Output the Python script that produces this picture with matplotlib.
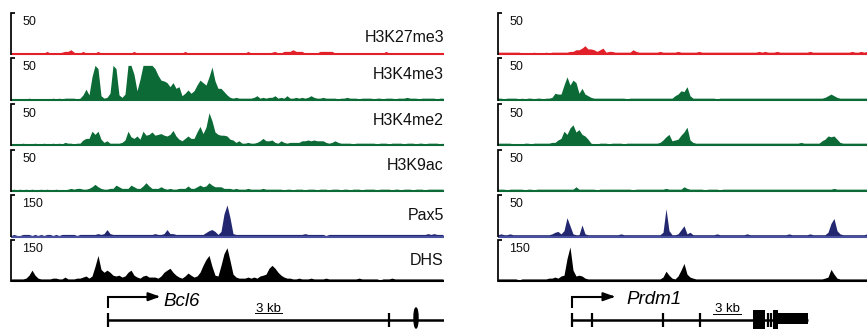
import matplotlib
matplotlib.use('Agg')
import matplotlib.pyplot as plt
import matplotlib.transforms as mtransforms
import numpy as np
from matplotlib.patches import Ellipse, Rectangle

plt.rcParams['font.family'] = ['Liberation Sans', 'DejaVu Sans']

# ---------------- data ----------------
BIN_KB = 1.0 / 3.0          # signal bin size (kb)
LEFT_SPAN_KB = 48.11
RIGHT_SPAN_KB = 41.0

track_names = ['H3K27me3', 'H3K4me3', 'H3K4me2', 'H3K9ac', 'Pax5', 'DHS']
left_max = [50, 50, 50, 50, 150, 150]
right_max = [50, 50, 50, 50, 50, 150]

# ---- Bcl6 locus signals (one value per 1/3 kb) ----
bcl6_h3k27me3 = [0,0,0,0,0,0,0,0,0,0, 0,0,2,0,0,0,0,1,2,2, 4,1,0,0,2,0,0,0,0,2,
                 0,0,0,0,0,0,0,0,0,0, 0,2,0,0,0,0,0,0,0,0, 0,0,0,0,0,0,0,0,2,0,
                 0,0,0,0,0,0,0,0,0,0, 0,0,0,0,0,0,0,0,0,2, 0,0,0,0,0,0,0,1,2,0,
                 0,2,2,2,4,2,2,2,0,0, 0,0,0,2,2,2,2,2,0,0, 0,0,0,0,0,0,0,0,0,0,
                 0,0,0,0,0,2,0,0,0,0, 0,0,0,0,0,0,0,0,0,0, 0,0,0,0,0]
bcl6_h3k4me3 = [0,0,0,0,0,0,1,0,0,0, 0,0,0,0,1,0,1,0,1,1, 1,1,0,1,5,12,5,27,41,37,
                4,1,2,7,41,37,5,2,6,41, 41,30,10,24,41,41,41,41,37,29, 23,22,20,15,20,13,15,4,7,11,
                7,10,17,23,20,17,27,39,22,13, 13,9,5,2,1,2,1,1,1,1, 1,2,4,1,2,1,2,2,4,1,
                2,1,4,1,1,2,1,2,1,2, 4,2,1,1,2,1,1,1,1,0, 1,1,2,1,1,1,0,1,1,1,
                1,0,1,1,0,1,1,1,0,1, 1,1,2,1,1,1,0,1,1,1, 1,1,0,1,1]
bcl6_h3k4me2 = [0,0,0,0,1,0,0,0,1,0, 0,1,0,0,1,0,1,0,2,1, 1,0,1,1,5,7,7,16,12,16,
                6,2,4,1,1,1,1,2,5,16, 9,7,10,6,16,11,12,15,11,12, 13,11,10,12,17,10,6,4,7,10,
                7,7,15,22,13,21,39,29,15,12, 11,11,10,6,5,2,4,1,1,2, 1,1,2,4,7,4,4,5,2,1,
                4,2,1,2,2,2,2,4,4,5, 4,5,4,4,4,2,1,2,4,2, 1,1,1,1,0,1,1,1,1,1,
                1,1,0,1,1,1,0,1,1,1, 1,0,1,1,1,0,1,1,0,1, 1,1,1,0,1]
bcl6_h3k9ac = [0,1,0,1,0,1,0,1,0,0, 1,0,1,0,0,1,0,0,0,1, 2,1,2,2,1,1,2,4,7,4,
               2,1,1,2,2,6,4,2,2,2, 6,4,2,2,5,9,5,2,2,2, 4,2,1,2,1,1,2,2,2,5,
               2,2,4,6,4,5,9,6,4,4, 4,2,2,2,1,2,1,1,1,2, 1,1,1,1,2,1,1,1,1,1,
               1,0,1,1,0,1,1,1,0,1, 1,1,0,1,1,1,0,1,1,1, 0,1,1,0,1,1,1,0,1,1,
               1,1,0,1,1,1,1,0,1,1, 0,1,1,1,0,1,1,1,0,1, 1,1,1,1,1]
bcl6_pax5 = [0,4,0,0,4,4,4,0,4,0, 4,0,4,4,0,4,0,4,4,4, 4,4,0,4,4,4,4,4,4,7,
             4,7,22,7,4,4,4,4,4,4, 4,4,4,4,4,4,4,4,7,4, 4,7,22,7,7,4,4,4,4,4,
             4,4,4,4,4,11,18,22,15,4, 15,80,113,66,7,4,4,4,4,4, 4,4,4,4,4,4,4,4,4,4,
             4,4,4,4,4,4,4,4,7,4, 4,4,4,4,4,0,4,4,4,4, 4,4,4,4,4,4,4,4,4,4,
             4,4,4,4,4,4,4,4,4,4, 4,4,4,4,4,4,4,4,4,7, 4,7,4,4,4]
bcl6_dhs = [4,4,4,4,4,7,18,37,18,7, 4,4,4,4,7,7,4,4,11,4, 4,4,7,7,11,15,7,15,51,92,
            40,29,37,29,18,15,18,11,15,29, 37,18,11,7,15,18,11,11,11,7, 15,29,37,44,29,18,11,7,15,26,
            18,11,15,29,55,77,92,51,18,15, 55,99,121,73,22,11,7,7,7,11, 7,11,7,15,18,22,44,55,44,29,
            18,11,7,7,4,4,7,4,4,4, 7,4,4,4,4,7,4,4,4,4, 4,4,4,4,4,4,7,4,4,4,
            4,4,4,0,4,4,4,7,4,4, 4,4,4,4,4,4,4,4,4,4, 4,4,4,4,4]

# ---- Prdm1 locus signals (one value per 1/3 kb) ----
prdm1_h3k27me3 = [1,1,1,1,1,1,1,1,0,0, 0,0,1,0,0,0,1,0,1,1, 1,1,1,1,2,2,4,4,6,9,
                  5,5,4,2,4,6,1,2,2,1, 1,1,1,1,1,4,2,1,1,1, 1,1,1,1,2,1,1,1,1,1,
                  2,1,1,1,1,1,1,2,1,1, 1,1,1,1,1,1,1,1,1,1, 1,1,1,1,1,1,1,2,1,2,
                  1,1,1,2,1,1,1,1,1,1, 1,1,1,1,2,1,1,1,1,1, 1,1,1,1,1,1,1,1,2,1,
                  1,2,1,2]
prdm1_h3k4me3 = [1,1,0,1,1,1,1,0,1,0, 1,1,0,1,1,0,1,1,2,7, 6,6,17,27,17,23,20,7,13,6,
                 4,2,1,1,1,1,1,1,1,1, 1,1,1,0,1,1,1,1,1,1, 1,1,1,1,1,1,1,1,1,4,
                 6,10,9,15,4,1,1,1,1,1, 1,1,1,0,1,1,1,1,1,1, 1,1,1,1,1,1,1,1,1,1,
                 1,1,1,1,1,1,1,1,1,1, 1,1,1,1,1,1,1,1,1,2, 4,6,4,2,1,1,1,1,1,1,
                 1,1,1,1]
prdm1_h3k4me2 = [1,1,1,1,1,0,0,0,0,1, 1,0,1,1,1,1,1,1,2,2, 5,7,16,12,20,24,15,18,12,10,
                 6,1,0,0,1,1,1,0,1,1, 1,1,0,1,1,1,1,1,1,1, 1,1,1,1,2,5,9,12,4,5,
                 6,11,15,21,5,2,1,1,1,1, 1,1,1,1,1,1,1,1,1,1, 1,1,1,1,1,1,1,1,1,1,
                 1,1,1,1,1,1,1,1,1,1, 1,2,1,1,1,1,1,1,4,6, 10,9,10,6,2,1,1,1,1,1,
                 1,1,1,1]
prdm1_h3k9ac = [1,1,1,0,1,1,1,1,1,0, 1,1,0,1,1,1,1,1,1,1, 1,1,1,1,1,1,4,1,1,1,
                1,1,1,0,1,1,1,1,1,1, 1,1,1,1,1,0,1,1,1,1, 1,1,1,1,1,1,2,1,1,1,
                1,1,4,2,1,1,1,1,1,0, 1,1,1,1,0,1,1,1,1,1, 1,1,1,1,1,1,1,1,1,1,
                1,1,1,1,1,1,1,1,1,1, 1,1,1,1,1,1,1,1,1,1, 1,1,2,1,1,1,1,1,1,1,
                1,1,1,1]
prdm1_pax5 = [1,2,1,1,2,1,1,1,1,1, 1,1,1,1,1,1,1,1,2,4, 5,2,6,22,12,2,1,1,13,2,
              1,1,1,1,1,1,1,1,1,1, 1,2,1,1,1,1,1,1,1,1, 1,1,1,1,1,4,33,6,1,1,
              2,7,12,2,4,1,1,1,1,1, 1,1,1,2,1,1,1,1,1,1, 1,1,1,2,1,1,1,1,1,1,
              1,1,1,1,1,1,1,2,1,1, 1,1,1,1,2,1,1,1,1,1, 4,15,21,6,2,1,1,1,1,1,
              1,1,1,2]
prdm1_dhs = [4,4,4,4,4,4,4,0,4,4, 4,4,4,4,4,4,4,7,7,11, 7,15,18,80,124,37,15,18,15,7,
             4,4,4,4,4,4,4,4,4,4, 4,4,4,4,4,4,4,4,4,4, 4,4,4,4,4,11,33,18,7,4,
             15,37,62,22,11,7,4,4,4,4, 4,4,4,4,4,4,4,4,4,4, 4,4,4,4,4,4,4,4,4,4,
             4,4,4,4,4,4,4,4,4,4, 4,4,4,4,4,4,4,4,4,7, 11,40,22,7,4,4,4,4,4,4,
             4,4,4,4]

# ---- gene models (kb from panel start) ----
bcl6_name = 'Bcl6'
bcl6_tss = 10.8
bcl6_end = 50.0
bcl6_exon_ticks = [10.8, 42.0]
bcl6_big_exons = [45.0]
bcl6_scale = (27.1, 30.1)

prdm1_name = 'Prdm1'
prdm1_tss = 8.19
prdm1_end = 34.48
prdm1_exon_ticks = [8.19, 10.41, 18.33, 22.44, 29.97, 30.3]
prdm1_tall_blocks = [(28.37, 29.67), (30.59, 31.1)]
prdm1_short_blocks = [(31.1, 34.48)]
prdm1_scale = (23.9, 27.0)

# ---------------- styling / layout ----------------
W, H = 867, 329
fig = plt.figure(figsize=(W / 100, H / 100), dpi=100)

fill_colors = ['#E2202A', '#0B6A36', '#0B6A36', '#0B6A36', '#222770', '#000000']
base_colors = ['#E2202A', '#0B6A36', '#0B6A36', '#0B6A36', '#4A50A0', '#000000']
track_top = [12.5, 58, 104, 149.5, 195, 240]
track_base = [53, 99, 144, 190, 235.5, 280]
label_base = [41.7, 79, 125, 170, 220, 265]

panels = [
    dict(x0=11, x1=444, span=LEFT_SPAN_KB, maxes=left_max,
         tracks=[bcl6_h3k27me3, bcl6_h3k4me3, bcl6_h3k4me2, bcl6_h3k9ac, bcl6_pax5, bcl6_dhs],
         labels=True),
    dict(x0=498, x1=867, span=RIGHT_SPAN_KB, maxes=right_max,
         tracks=[prdm1_h3k27me3, prdm1_h3k4me3, prdm1_h3k4me2, prdm1_h3k9ac, prdm1_pax5, prdm1_dhs],
         labels=False),
]


def add_ax(x0, ytop, x1, ybot):
    return fig.add_axes([x0 / W, 1 - ybot / H, (x1 - x0) / W, (ybot - ytop) / H])


for p in panels:
    for k in range(6):
        ax = add_ax(p['x0'], track_top[k], p['x1'], track_base[k])
        vals = np.asarray(p['tracks'][k], dtype=float)
        x = np.arange(len(vals)) * BIN_KB
        ax.fill_between(x, 0, vals, color=fill_colors[k], lw=0)
        ax.set_xlim(0, p['span'])
        ax.set_ylim(0, p['maxes'][k])
        ax.axis('off')
        # baseline bar sitting just under the zero line
        base_tr = mtransforms.offset_copy(ax.transAxes, fig=fig, y=-1.0, units='dots')
        ax.plot([0, 1], [0, 0], transform=base_tr, color=base_colors[k],
                lw=1.5, clip_on=False, solid_capstyle='butt')
        axw = p['x1'] - p['x0']
        axh = track_base[k] - track_top[k]
        ax.plot([3.5 / axw, 0, 0], [1, 1, -1.5 / axh], transform=ax.transAxes, color='black',
                lw=1.25, clip_on=False, solid_joinstyle='miter', solid_capstyle='butt')
        ax.text(11.5 / axw, 1 - 12.5 / axh, str(p['maxes'][k]), transform=ax.transAxes,
                fontsize=9, ha='left', va='baseline', color='#111111')
        if p['labels']:
            fig.text(p['x1'] / W, 1 - label_base[k] / H, track_names[k], ha='right',
                     va='baseline', fontsize=11.5, color='#111111')

# ---------------- gene models ----------------
GENE_Y = 319.5


def gene_axes(p):
    ax = add_ax(p['x0'], 283, p['x1'], 329)
    ax.set_xlim(0, p['span'])
    ax.set_ylim(329, 283)
    ax.axis('off')
    return ax


# Bcl6
gax = gene_axes(panels[0])
gax.plot([bcl6_tss, bcl6_end], [GENE_Y, GENE_Y], color='black', lw=1.8, solid_capstyle='butt')
for t in bcl6_exon_ticks:
    gax.plot([t, t], [312.5, 327], color='black', lw=1.6, solid_capstyle='butt')
for e in bcl6_big_exons:
    gax.add_patch(Ellipse((e, 318), 0.45, 20, color='black'))
gax.plot([bcl6_tss, bcl6_tss, bcl6_tss + 5.2], [307.5, 296.7, 296.7], color='black', lw=1.5,
         solid_joinstyle='miter', solid_capstyle='butt')
gax.annotate('', xy=(bcl6_tss + 6.1, 296.7), xytext=(bcl6_tss + 4.8, 296.7),
             arrowprops=dict(arrowstyle='-|>,head_length=0.7,head_width=0.25', color='black', lw=1.5))
gax.text(bcl6_tss + 6.15, 305.5, bcl6_name, fontsize=13.5, style='italic', ha='left', va='baseline')
gax.plot(list(bcl6_scale), [313, 313], color='black', lw=0.7)
gax.text(sum(bcl6_scale) / 2, 311.5, '3 kb', fontsize=9.5, ha='center', va='baseline')

# Prdm1
gax = gene_axes(panels[1])
gax.plot([prdm1_tss, prdm1_end], [GENE_Y, GENE_Y], color='black', lw=1.8, solid_capstyle='butt')
for t in prdm1_exon_ticks:
    gax.plot([t, t], [312.5, 327], color='black', lw=1.6, solid_capstyle='butt')
for a, b in prdm1_tall_blocks:
    gax.add_patch(Rectangle((a, 309.5), b - a, 19, color='black', lw=0))
for a, b in prdm1_short_blocks:
    gax.add_patch(Rectangle((a, 312.5), b - a, 11.5, color='black', lw=0))
gax.plot([prdm1_tss, prdm1_tss, prdm1_tss + 4.3], [307.5, 296.7, 296.7], color='black', lw=1.5,
         solid_joinstyle='miter', solid_capstyle='butt')
gax.annotate('', xy=(prdm1_tss + 5.15, 296.7), xytext=(prdm1_tss + 3.9, 296.7),
             arrowprops=dict(arrowstyle='-|>,head_length=0.7,head_width=0.25', color='black', lw=1.5))
gax.text(prdm1_tss + 6.1, 304.5, prdm1_name, fontsize=13.5, style='italic', ha='left', va='baseline')
gax.plot(list(prdm1_scale), [313.5, 313.5], color='black', lw=0.7)
gax.text(sum(prdm1_scale) / 2, 311.5, '3 kb', fontsize=9.5, ha='center', va='baseline')

fig.savefig('out.png', dpi=100)
